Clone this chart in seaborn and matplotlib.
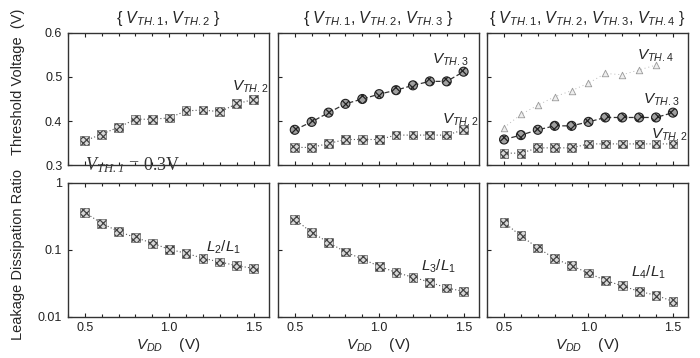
import numpy as np
import seaborn as sns
import matplotlib.pyplot as plt
from matplotlib.ticker import MultipleLocator, FixedLocator

vdd = [0.5, 0.6, 0.7, 0.8, 0.9, 1.0, 1.1, 1.2, 1.3, 1.4, 1.5]
vdd_vth4 = [0.5, 0.6, 0.7, 0.8, 0.9, 1.0, 1.1, 1.2, 1.3, 1.4]

# threshold voltages (V)
vth2_a = [0.355, 0.370, 0.386, 0.404, 0.404, 0.407, 0.423, 0.425, 0.421, 0.439, 0.449]
vth3_b = [0.380, 0.398, 0.419, 0.439, 0.450, 0.461, 0.470, 0.481, 0.490, 0.490, 0.512]
vth2_b = [0.340, 0.340, 0.349, 0.358, 0.358, 0.358, 0.368, 0.368, 0.368, 0.368, 0.380]
vth4_c = [0.385, 0.415, 0.436, 0.455, 0.469, 0.486, 0.508, 0.505, 0.516, 0.527]
vth3_c = [0.358, 0.368, 0.380, 0.389, 0.389, 0.398, 0.408, 0.408, 0.408, 0.408, 0.419]
vth2_c = [0.327, 0.327, 0.339, 0.339, 0.339, 0.348, 0.348, 0.348, 0.348, 0.348, 0.348]

# leakage dissipation ratios
l2 = [0.361, 0.250, 0.188, 0.153, 0.126, 0.102, 0.089, 0.075, 0.066, 0.058, 0.053]
l3 = [0.287, 0.182, 0.129, 0.093, 0.073, 0.057, 0.046, 0.039, 0.033, 0.027, 0.024]
l4 = [0.256, 0.162, 0.107, 0.074, 0.058, 0.045, 0.035, 0.029, 0.024, 0.021, 0.017]

titles = [r'{ $V_{TH.1}$, $V_{TH.2}$ }',
          r'{ $V_{TH.1}$, $V_{TH.2}$, $V_{TH.3}$ }',
          r'{ $V_{TH.1}$, $V_{TH.2}$, $V_{TH.3}$, $V_{TH.4}$ }']

sns.set_style('ticks')
plt.rcParams['font.family'] = ['Liberation Sans', 'DejaVu Sans']
plt.rcParams['mathtext.fontset'] = 'custom'
plt.rcParams['mathtext.it'] = 'Liberation Sans:italic'
plt.rcParams['mathtext.rm'] = 'Liberation Sans'
plt.rcParams['mathtext.bf'] = 'Liberation Serif:italic'
plt.rcParams['hatch.color'] = '#111111'
plt.rcParams['hatch.linewidth'] = 0.9

fig = plt.figure(figsize=(7, 3.58), dpi=100)
lefts = [0.097, 0.397, 0.696]
w = 0.287
top_axes = [fig.add_axes([l, 0.539, w, 0.369]) for l in lefts]
bot_axes = [fig.add_axes([l, 0.115, w, 0.374]) for l in lefts]


def draw(ax, x, y, kind):
    if kind == 'sq':
        sns.lineplot(x=x, y=y, ax=ax, color='#555555', lw=0.8, linestyle=(0, (1, 2)))
        sns.scatterplot(x=x, y=y, ax=ax, marker='s', s=40, facecolor='#d8d8d8',
                        edgecolor='#444444', linewidth=0.4, hatch='xxxxx', zorder=3)
    elif kind == 'ci':
        sns.lineplot(x=x, y=y, ax=ax, color='#333333', lw=0.9, linestyle=(0, (4, 2)))
        sns.scatterplot(x=x, y=y, ax=ax, marker='o', s=42, facecolor='#a0a0a0',
                        edgecolor='#222222', linewidth=0.8, hatch='xxxx', zorder=3)
    else:
        sns.lineplot(x=x, y=y, ax=ax, color='#bbbbbb', lw=0.7, linestyle=(0, (1, 3)))
        sns.scatterplot(x=x, y=y, ax=ax, marker='^', s=22, facecolor='#eeeeee',
                        edgecolor='#999999', linewidth=0.6, zorder=3)


draw(top_axes[0], vdd, vth2_a, 'sq')
draw(top_axes[1], vdd, vth2_b, 'sq')
draw(top_axes[1], vdd, vth3_b, 'ci')
draw(top_axes[2], vdd_vth4, vth4_c, 'tr')
draw(top_axes[2], vdd, vth3_c, 'ci')
draw(top_axes[2], vdd, vth2_c, 'sq')
draw(bot_axes[0], vdd, l2, 'sq')
draw(bot_axes[1], vdd, l3, 'sq')
draw(bot_axes[2], vdd, l4, 'sq')

lab = dict(fontsize=11, va='center', ha='left')
top_axes[0].text(1.37, 0.477, r'$V_{TH.2}$', **lab)
top_axes[1].text(1.31, 0.539, r'$V_{TH.3}$', **lab)
top_axes[1].text(1.37, 0.402, r'$V_{TH.2}$', **lab)
top_axes[2].text(1.29, 0.548, r'$V_{TH.4}$', **lab)
top_axes[2].text(1.32, 0.448, r'$V_{TH.3}$', **lab)
top_axes[2].text(1.37, 0.368, r'$V_{TH.2}$', **lab)
bot_axes[0].text(1.22, 0.11, r'$L_2/L_1$', **lab)
bot_axes[1].text(1.25, 0.057, r'$L_3/L_1$', **lab)
bot_axes[2].text(1.25, 0.046, r'$L_4/L_1$', **lab)

for i, ax in enumerate(top_axes + bot_axes):
    ax.set_xlim(0.4, 1.59)
    ax.xaxis.set_major_locator(FixedLocator([0.5, 1.0, 1.5]))
    ax.xaxis.set_minor_locator(MultipleLocator(0.1))
    ax.tick_params(direction='in', which='both', top=True, labelsize=9, colors='#222222',
                   length=3, width=0.8, pad=4)
    ax.tick_params(which='minor', length=2)
    for s in ax.spines.values():
        s.set_color('#333333')
        s.set_linewidth(1.0)
    ax.set_xlabel('')
    ax.set_ylabel('')

for i, ax in enumerate(top_axes):
    ax.set_ylim(0.3, 0.6)
    ax.set_yticks([0.3, 0.4, 0.5, 0.6])
    ax.set_xticklabels([])
    if i > 0:
        ax.set_yticklabels([])
    ax.set_title(titles[i], fontsize=11.5, pad=7)

for i, ax in enumerate(bot_axes):
    ax.set_yscale('log')
    ax.set_ylim(0.01, 1)
    ax.set_yticks([0.01, 0.1, 1])
    ax.yaxis.set_minor_locator(FixedLocator([]))
    if i == 0:
        ax.set_yticklabels(['0.01', '0.1', '1'])
    else:
        ax.set_yticklabels([])
    ax.set_xticklabels(['0.5', '1.0', '1.5'])
    ax.set_xlabel(r'$V_{DD}$    (V)', fontsize=11, labelpad=1)

fig.text(0.026, 0.772, 'Threshold Voltage  (V)', rotation=90, fontsize=10.5,
         ha='center', va='center')
fig.text(0.026, 0.288, 'Leakage Dissipation Ratio', rotation=90, fontsize=10.5,
         ha='center', va='center')

top_axes[0].text(0.5, 0.3, r'$\mathbf{V_{TH.1}}$ = 0.3V', fontsize=13,
                 family='Liberation Serif', ha='left', va='center', color='#333333')

fig.savefig('out.png', dpi=100, facecolor='white')
